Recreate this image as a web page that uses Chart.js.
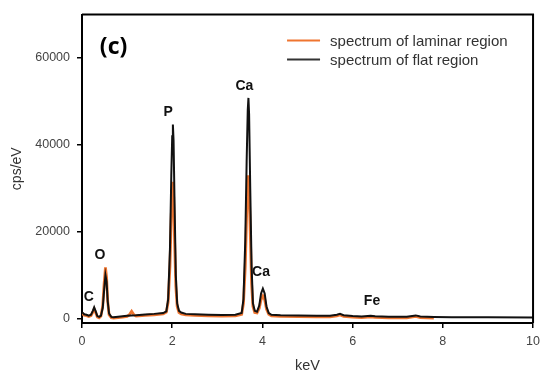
<!DOCTYPE html>
<html>
<head>
<meta charset="utf-8">
<script src="https://cdn.jsdelivr.net/npm/chart.js@4.4.1/dist/chart.umd.min.js"></script>
<style>
html,body{margin:0;padding:0;background:#fff;}
#c{display:block;}
</style>
</head>
<body>
<canvas id="c" width="546" height="379"></canvas>
<script>
// ---- data ----
const flatKeV = [0.00,0.05,0.10,0.15,0.20,0.24,0.27,0.30,0.34,0.38,0.42,0.46,0.49,0.52,0.545,0.57,0.60,0.65,0.70,0.80,0.90,1.00,1.10,1.20,1.40,1.60,1.80,1.87,1.91,1.95,1.98,2.00,2.015,2.03,2.05,2.08,2.11,2.15,2.20,2.30,2.50,2.80,3.10,3.40,3.54,3.58,3.62,3.65,3.675,3.69,3.705,3.73,3.76,3.79,3.83,3.88,3.93,3.97,4.01,4.05,4.09,4.14,4.20,4.40,4.80,5.20,5.50,5.65,5.72,5.80,6.00,6.20,6.40,6.50,6.80,7.20,7.40,7.50,7.80,8.20,9.00,10.00];
const flatCps = [1500,1000,900,700,900,1800,2600,1800,600,400,700,2500,6500,10000,8500,4000,1200,400,350,450,550,650,750,800,950,1100,1300,1700,4500,16000,33000,42000,44700,41000,28000,10000,3500,1800,1400,1100,1000,900,850,900,1300,4500,18000,36000,48000,50800,47000,30000,12000,3500,1800,1600,3000,5800,6900,5800,2800,1300,900,800,700,650,650,900,1100,800,600,500,650,550,450,450,750,500,400,350,300,250];

const lamKeV = [0.00,0.05,0.10,0.15,0.20,0.24,0.27,0.30,0.34,0.38,0.42,0.46,0.49,0.52,0.545,0.57,0.60,0.65,0.70,0.80,0.90,1.00,1.05,1.10,1.15,1.20,1.40,1.60,1.80,1.87,1.91,1.95,1.98,2.00,2.015,2.03,2.05,2.08,2.11,2.15,2.20,2.30,2.50,2.80,3.10,3.40,3.54,3.58,3.62,3.65,3.675,3.69,3.705,3.73,3.76,3.79,3.83,3.88,3.93,3.97,4.01,4.05,4.09,4.14,4.20,4.40,4.80,5.20,5.50,5.65,5.72,5.80,6.00,6.20,6.40,6.50,6.80,7.20,7.40,7.50,7.80];
const lamCps = [1200,800,700,500,700,1500,2200,1500,400,200,600,3000,8000,11800,9500,4000,900,200,150,250,350,500,900,1700,900,600,750,900,1100,1500,3800,12000,24000,29500,31500,29000,19000,7500,2800,1400,1100,850,750,650,600,650,1000,3500,12000,24000,31000,33000,30500,20000,8000,2800,1400,1300,2400,4400,5200,4400,2200,1000,650,550,450,400,400,650,850,550,350,250,400,300,200,200,500,250,150];

const seriesLabels = ["spectrum of laminar region", "spectrum of flat region"];
const xTicks = [0,2,4,6,8,10];
const yTicks = [0,20000,40000,60000];

// peak annotations: text, keV, cps/eV
const peakText = ["C","O","P","Ca","Ca","Fe"];
const peakKeV  = [0.15,0.40,1.91,3.60,3.97,6.43];
const peakCps  = [4900,14600,47600,53500,10800,4000];
const panelText = "(c)";
const panelKeV = 0.70;
const panelCps = 62500;

const toXY = (xs, ys) => xs.map((x, i) => ({x: x, y: ys[i]}));

const ORANGE = '#EF7530';
const BLACK = '#111111';

const frameAndText = {
  id: 'frameAndText',
  afterDatasetsDraw(chart) {
    const ctx = chart.ctx;
    const a = chart.chartArea;
    const xs = chart.scales.x, ys = chart.scales.y;
    ctx.save();
    ctx.strokeStyle = '#000';
    ctx.lineWidth = 2;
    ctx.beginPath();
    ctx.moveTo(a.left, a.top);
    ctx.lineTo(a.right, a.top);
    ctx.lineTo(a.right, a.bottom);
    ctx.stroke();
    ctx.fillStyle = '#111';
    ctx.textAlign = 'center';
    ctx.textBaseline = 'middle';
    ctx.font = 'bold 14px "Liberation Sans", Arial, sans-serif';
    peakText.forEach((t, i) => {
      ctx.fillText(t, xs.getPixelForValue(peakKeV[i]), ys.getPixelForValue(peakCps[i]));
    });
    ctx.font = 'bold 23px "Open Sans", Lato, sans-serif';
    ctx.fillStyle = '#000';
    ctx.fillText(panelText, xs.getPixelForValue(panelKeV), ys.getPixelForValue(panelCps));
    const ds = chart.data.datasets;
    const lx0 = a.right - 246, lx1 = a.right - 213, tx = a.right - 203;
    const ly = [a.top + 26, a.top + 45];
    ctx.textAlign = 'left';
    ctx.font = '15px "Liberation Sans", Arial, sans-serif';
    ds.forEach((d, i) => {
      ctx.strokeStyle = i === 0 ? ORANGE : '#333';
      ctx.lineWidth = 2;
      ctx.beginPath();
      ctx.moveTo(lx0, ly[i]);
      ctx.lineTo(lx1, ly[i]);
      ctx.stroke();
      ctx.fillStyle = '#333';
      ctx.fillText(d.label, tx, ly[i] + 1);
    });
    ctx.restore();
  }
};

new Chart(document.getElementById('c'), {
  type: 'line',
  data: {
    datasets: [
      {label: seriesLabels[0], data: toXY(lamKeV, lamCps), borderColor: ORANGE, borderWidth: 2.8, pointRadius: 0, tension: 0, order: 2},
      {label: seriesLabels[1], data: toXY(flatKeV, flatCps), borderColor: BLACK, borderWidth: 2, pointRadius: 0, tension: 0, order: 1}
    ]
  },
  options: {
    responsive: false,
    animation: false,
    layout: {padding: {top: 8, right: 8, bottom: 0, left: 0}},
    plugins: {legend: {display: false}, tooltip: {enabled: false}},
    scales: {
      x: {
        type: 'linear', min: 0, max: 10,
        afterBuildTicks: s => { s.ticks = xTicks.map(v => ({value: v})); },
        afterFit: s => { s.height = 56; },
        grid: {drawOnChartArea: false, drawTicks: true, tickLength: 5, color: '#000', lineWidth: 1.5},
        border: {color: '#000', width: 2},
        ticks: {padding: 6, color: '#444', font: {family: '"Liberation Sans", Arial, sans-serif', size: 12.5}, maxRotation: 0},
        title: {display: true, text: 'keV', color: '#333', font: {family: '"Liberation Sans", Arial, sans-serif', size: 14.5}, padding: {top: 0, bottom: 4}}
      },
      y: {
        type: 'linear', min: -1000, max: 70000,
        afterBuildTicks: s => { s.ticks = yTicks.map(v => ({value: v})); },
        afterFit: s => { s.width = 82; },
        grid: {drawOnChartArea: false, drawTicks: true, tickLength: 5, color: '#000', lineWidth: 1.5},
        border: {color: '#000', width: 2},
        ticks: {padding: 7, color: '#444', font: {family: '"Liberation Sans", Arial, sans-serif', size: 12.5}, callback: v => String(v)},
        title: {display: true, text: 'cps/eV', color: '#333', font: {family: '"Liberation Sans", Arial, sans-serif', size: 14}, padding: {top: 9, bottom: 0}}
      }
    }
  },
  plugins: [frameAndText]
});
</script>
</body>
</html>
